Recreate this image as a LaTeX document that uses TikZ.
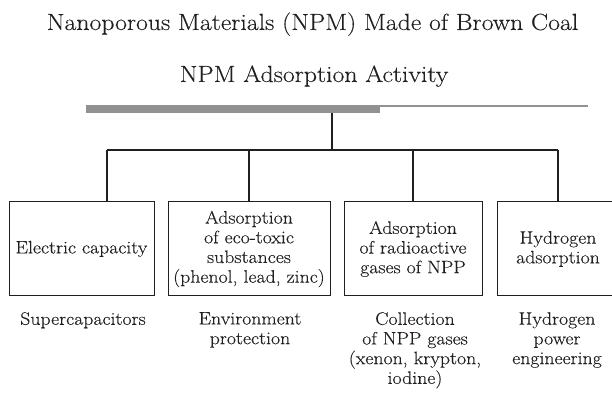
\documentclass[tikz,border=0pt]{standalone}
\usepackage{fontspec}
\setmainfont{Latin Modern Roman}[FakeStretch=1.1, FakeBold=0.2]
\definecolor{inkcol}{RGB}{35,31,32}
\definecolor{rulecol}{RGB}{145,145,145}
\begin{document}
\begin{tikzpicture}[x=1pt,y=1pt,
  ink/.style={draw=inkcol},
  title/.style={font=\fontsize{23.4}{28}\selectfont, inner sep=0pt, anchor=base, text=inkcol},
  boxstyle/.style={ink, line width=1pt, minimum height=94pt, inner sep=1pt,
    align=center, font=\fontsize{18}{19.7}\selectfont, text=inkcol},
  caption/.style={align=center, anchor=north, inner sep=0pt,
    font=\fontsize{18}{19.7}\selectfont, text=inkcol},
  link/.style={ink, line width=1.3pt}]
\useasboundingbox (0,0) rectangle (612,396);
\clip (0,0) rectangle (612,396);

% headings
\node[title] (head) at (312.5,366) {Nanoporous Materials (NPM) Made of Brown Coal};
\node[title] (sub) at (314,314) {NPM Adsorption Activity};

% grey rule under the subheading
\node[fill=rulecol, minimum width=294pt, minimum height=8pt, inner sep=0pt] (bar) at (233,287) {};
\coordinate (barend) at (588,290);
\draw[rulecol, line width=1.6pt] (bar.east |- barend) -- (barend);

% application boxes
\node[boxstyle, minimum width=145pt] (b1) at (81.5,147) {Electric capacity};
\node[boxstyle, minimum width=162pt] (b2) at (249,147) {Adsorption\\of eco-toxic\\substances\\(phenol, lead, zinc)};
\node[boxstyle, minimum width=138pt] (b3) at (413,147) {Adsorption\\of radioactive\\gases of NPP};
\node[boxstyle, minimum width=122pt] (b4) at (558,147) {Hydrogen\\adsorption};

% tree of connectors
\coordinate (hub) at (332,246);
\coordinate (j1) at (107,246);
\draw[link] (hub |- bar.south) -- (hub);
\draw[link] (j1) -- (b4.north |- hub);
\draw[link] (j1) -- (j1 |- b1.north);
\draw[link] (b2.north |- hub) -- (b2.north);
\draw[link] (b3.north |- hub) -- (b3.north);
\draw[link] (b4.north |- hub) -- (b4.north);

% fields of use
\node[caption] (c1) at (83,84) {Supercapacitors};
\node[caption] (c2) at (250,84) {Environment\\protection};
\node[caption] (c3) at (415,84) {Collection\\of NPP gases\\(xenon, krypton,\\iodine)};
\node[caption] (c4) at (557,84) {Hydrogen\\power\\engineering};
\end{tikzpicture}
\end{document}
